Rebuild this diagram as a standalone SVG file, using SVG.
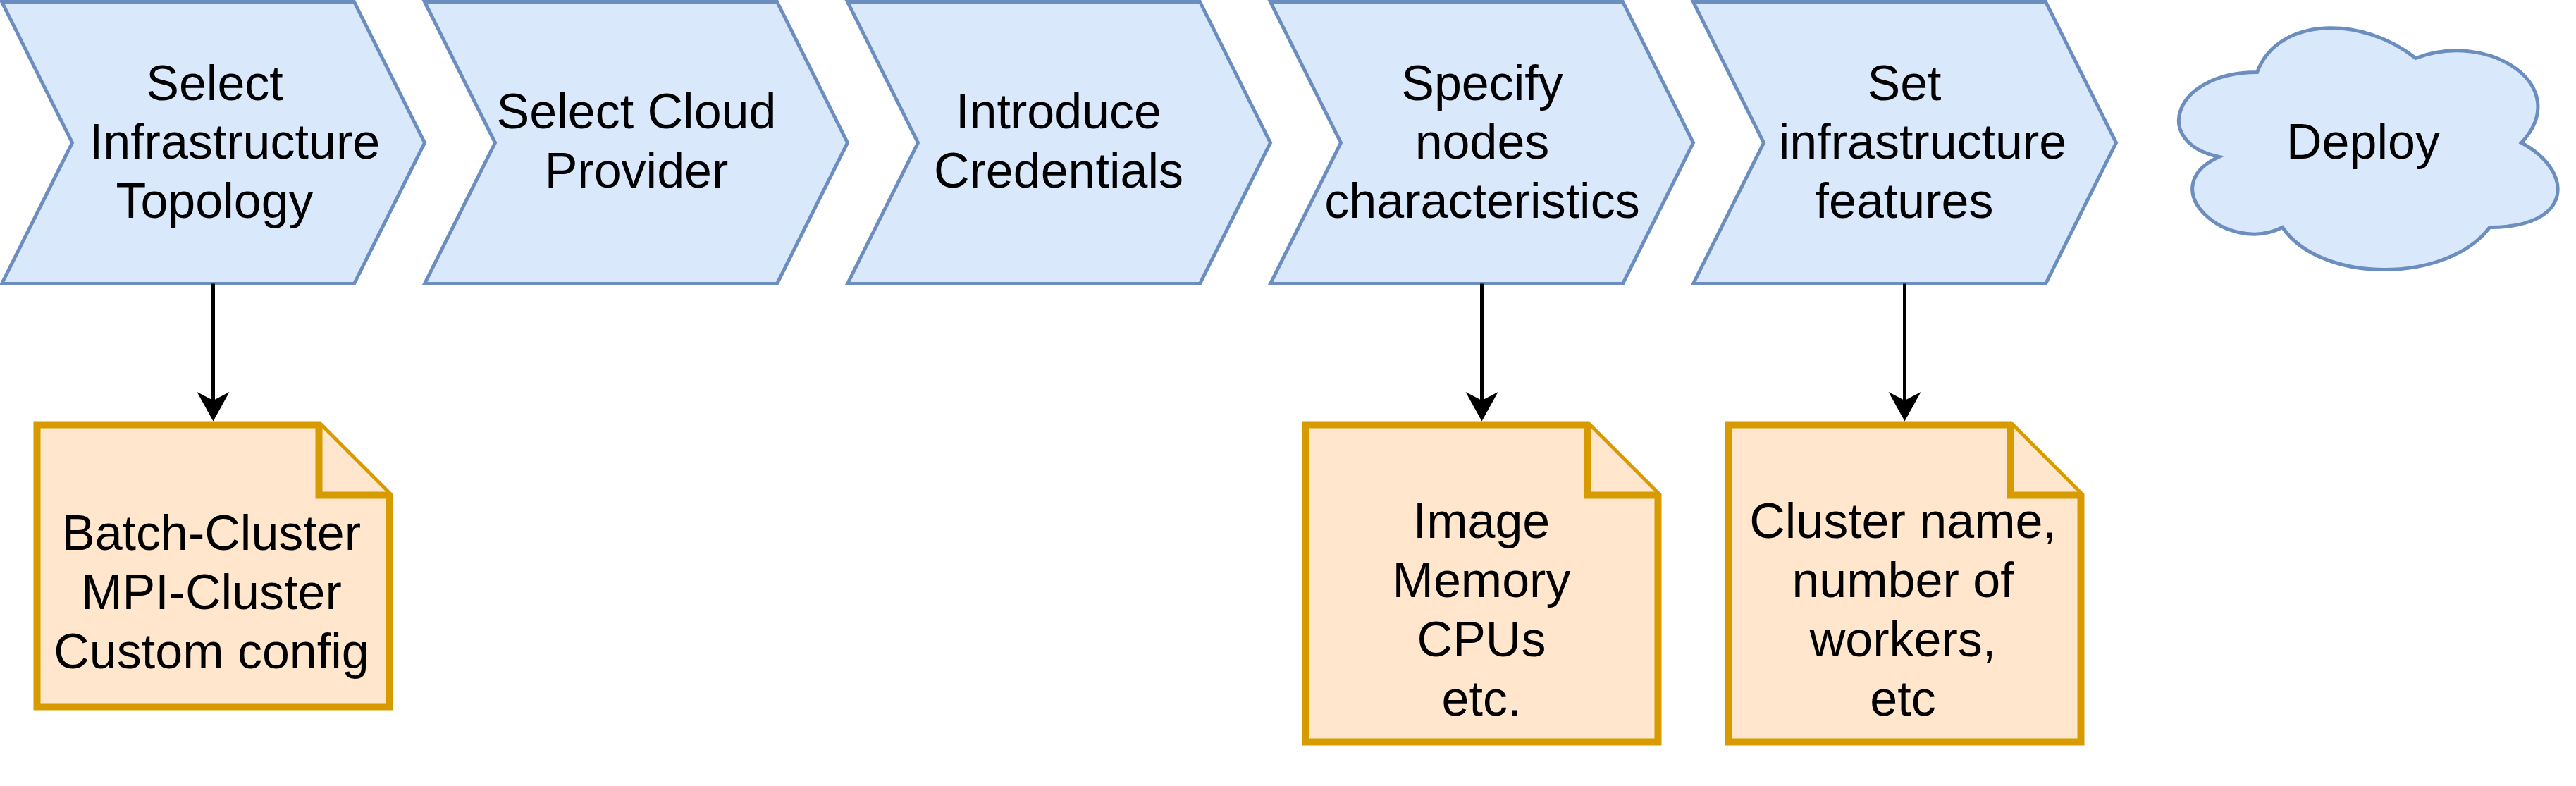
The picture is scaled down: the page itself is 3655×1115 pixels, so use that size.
<svg xmlns="http://www.w3.org/2000/svg" width="3655" height="1115" viewBox="0 0 3655 1115">
<style>
.step{fill:#dae8fc;stroke:#6c8ebf;stroke-width:5;stroke-miterlimit:10}
.note{fill:#ffe6cc;stroke:#d79b00;stroke-width:10;stroke-miterlimit:10}
.lbl{font-family:"Liberation Sans",Arial,Helvetica,sans-serif;font-size:70px;fill:#000;text-anchor:middle}
.conn{fill:none;stroke:#000;stroke-width:5}
</style>
<defs>
<marker id="arrow" markerUnits="userSpaceOnUse" markerWidth="50" markerHeight="50" refX="14.5" refY="25" orient="auto">
<path d="M42,25 L0.5,2 L12.5,25 L0.5,48 Z" fill="#000"/>
</marker>
</defs>
<rect width="3655" height="1115" fill="#fff"/>
<g id="step1">
<polygon class="step" points="2.5,2.5 502.5,2.5 602.5,202.5 502.5,402.5 2.5,402.5 102.5,202.5"/>
<text class="lbl"><tspan x="304.5" y="141.7">Select</tspan><tspan x="333" y="225.2">Infrastructure</tspan><tspan x="304.5" y="308.7">Topology</tspan></text>
</g>
<g id="step2">
<polygon class="step" points="602.5,2.5 1102.5,2.5 1202.5,202.5 1102.5,402.5 602.5,402.5 702.5,202.5"/>
<text class="lbl"><tspan x="903" y="182">Select Cloud</tspan><tspan x="903" y="265.5">Provider</tspan></text>
</g>
<g id="step3">
<polygon class="step" points="1202.5,2.5 1702.5,2.5 1802.5,202.5 1702.5,402.5 1202.5,402.5 1302.5,202.5"/>
<text class="lbl"><tspan x="1502" y="182">Introduce</tspan><tspan x="1502" y="265.5">Credentials</tspan></text>
</g>
<g id="step4">
<polygon class="step" points="1802.5,2.5 2302.5,2.5 2402.5,202.5 2302.5,402.5 1802.5,402.5 1902.5,202.5"/>
<text class="lbl"><tspan x="2103" y="141.7">Specify</tspan><tspan x="2103" y="225.2">nodes</tspan><tspan x="2103" y="308.7">characteristics</tspan></text>
</g>
<g id="step5">
<polygon class="step" points="2402.5,2.5 2902.5,2.5 3002.5,202.5 2902.5,402.5 2402.5,402.5 2502.5,202.5"/>
<text class="lbl"><tspan x="2702" y="141.7">Set</tspan><tspan x="2728" y="225.2">infrastructure</tspan><tspan x="2702" y="308.7">features</tspan></text>
</g>
<g id="deploy">
<path class="step" d="M3202.5,102.5 C3082.5,102.5 3052.5,202.5 3148.5,222.5 C3052.5,266.5 3160.5,362.5 3238.5,322.5 C3292.5,402.5 3472.5,402.5 3532.5,322.5 C3652.5,322.5 3652.5,242.5 3577.5,202.5 C3652.5,122.5 3532.5,42.5 3427.5,82.5 C3352.5,22.5 3232.5,22.5 3202.5,102.5 Z"/>
<text class="lbl" x="3353" y="225">Deploy</text>
</g>
<g id="note1">
<path class="note" d="M52.5,602.5 H452.5 L552.5,702.5 V1002.5 H52.5 Z"/>
<path class="note" d="M452.5,602.5 V702.5 H552.5"/>
<text class="lbl"><tspan x="300" y="780">Batch-Cluster</tspan><tspan x="300" y="864">MPI-Cluster</tspan><tspan x="300" y="948">Custom config</tspan></text>
</g>
<g id="note2">
<path class="note" d="M1852.5,602.5 H2252.5 L2352.5,702.5 V1052.5 H1852.5 Z"/>
<path class="note" d="M2252.5,602.5 V702.5 H2352.5"/>
<text class="lbl"><tspan x="2102" y="763">Image</tspan><tspan x="2102" y="847">Memory</tspan><tspan x="2102" y="931">CPUs</tspan><tspan x="2102" y="1015">etc.</tspan></text>
</g>
<g id="note3">
<path class="note" d="M2452.5,602.5 H2852.5 L2952.5,702.5 V1052.5 H2452.5 Z"/>
<path class="note" d="M2852.5,602.5 V702.5 H2952.5"/>
<text class="lbl"><tspan x="2700" y="763">Cluster name,</tspan><tspan x="2700" y="847">number of</tspan><tspan x="2700" y="931">workers,</tspan><tspan x="2700" y="1015">etc</tspan></text>
</g>
<g id="connectors">
<path class="conn" d="M302.5,402.5 V570" marker-end="url(#arrow)"/>
<path class="conn" d="M2102.5,402.5 V570" marker-end="url(#arrow)"/>
<path class="conn" d="M2702.5,402.5 V570" marker-end="url(#arrow)"/>
</g>
</svg>
